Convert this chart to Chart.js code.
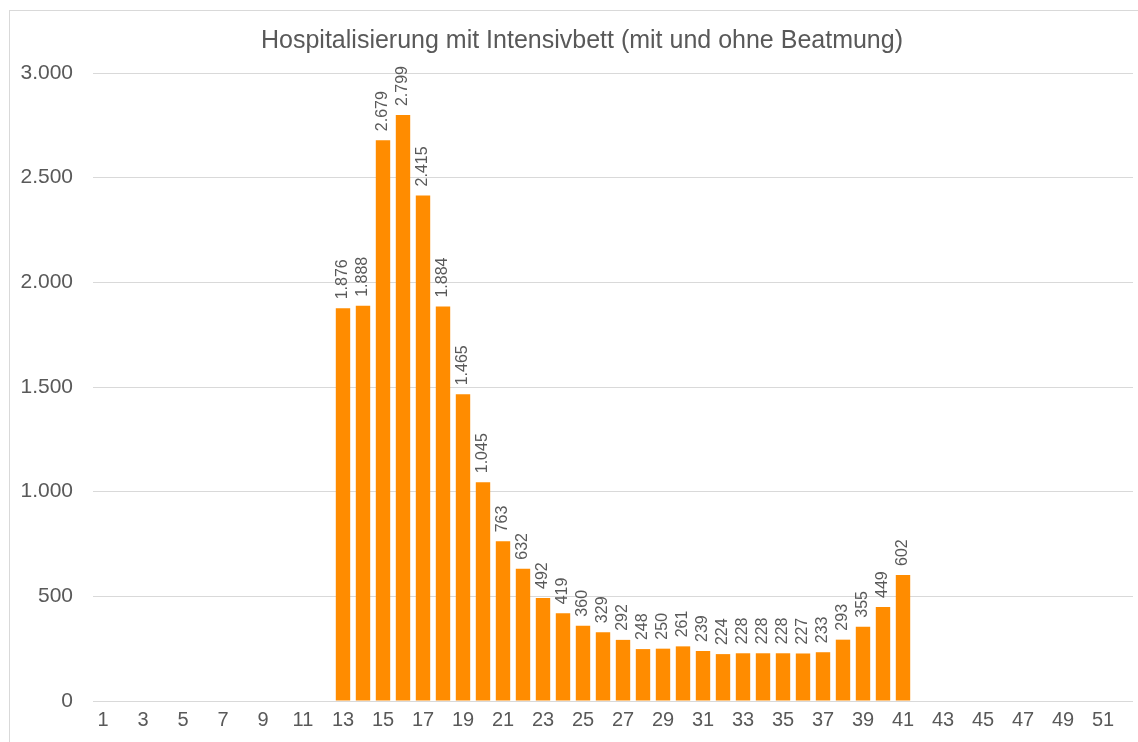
<!DOCTYPE html>
<html lang="de">
<head>
<meta charset="utf-8">
<title>Hospitalisierung mit Intensivbett</title>
<script src="https://cdn.jsdelivr.net/npm/chart.js@4/dist/chart.umd.min.js"></script>
<style>
  html, body { margin: 0; padding: 0; background: #ffffff; overflow: hidden; }
  #wrap { position: relative; width: 1138px; height: 742px; }
  #frame {
    position: absolute; left: 9px; top: 10px; width: 1160px; height: 760px;
    border: 1px solid #d9d9d9; box-sizing: border-box;
  }
  #icuChart { position: absolute; left: 0; top: 0; }
</style>
</head>
<body>
<div id="wrap">
  <div id="frame"></div>
  <canvas id="icuChart" width="1138" height="742"></canvas>
</div>
<script>
// Kalenderwochen 1..52
const weeks = ['1', '2', '3', '4', '5', '6', '7', '8', '9', '10', '11', '12', '13',
  '14', '15', '16', '17', '18', '19', '20', '21', '22', '23', '24', '25', '26',
  '27', '28', '29', '30', '31', '32', '33', '34', '35', '36', '37', '38', '39',
  '40', '41', '42', '43', '44', '45', '46', '47', '48', '49', '50', '51', '52'];

// Hospitalisierte Fälle mit Intensivbett je Woche (keine Werte vor KW 13 / nach KW 41)
const icuCases = [null, null, null, null, null, null, null, null, null, null, null, null,
  1876, 1888, 2679, 2799, 2415, 1884, 1465, 1045, 763, 632, 492, 419, 360, 329,
  292, 248, 250, 261, 239, 224, 228, 228, 228, 227, 233, 293, 355, 449, 602,
  null, null, null, null, null, null, null, null, null, null, null];

const yTicks = [0, 500, 1000, 1500, 2000, 2500, 3000];

const chartTitle = 'Hospitalisierung mit Intensivbett (mit und ohne Beatmung)';

const TEXT_GREY = '#595959';
const GRID_GREY = '#d9d9d9';
const BAR_ORANGE = '#ff8c00';
const FONT = "'Liberation Sans', Arial, sans-serif";

function formatDe(value) {
  return String(Math.round(value)).replace(/\B(?=(\d{3})+(?!\d))/g, '.');
}

// Title drawn slightly right of the canvas centre, like the original frame
const frameTitle = {
  id: 'frameTitle',
  afterDraw(chart) {
    const ctx = chart.ctx;
    ctx.save();
    ctx.font = '25px ' + FONT;
    ctx.fillStyle = TEXT_GREY;
    ctx.textAlign = 'center';
    ctx.textBaseline = 'middle';
    ctx.fillText(chartTitle, 582, 41);
    ctx.restore();
  },
};

// Vertical value labels above each bar
const barValueLabels = {
  id: 'barValueLabels',
  afterDatasetsDraw(chart) {
    const ctx = chart.ctx;
    const meta = chart.getDatasetMeta(0);
    const data = chart.data.datasets[0].data;
    ctx.save();
    ctx.font = '16px ' + FONT;
    ctx.fillStyle = '#595959';
    ctx.textAlign = 'left';
    ctx.textBaseline = 'middle';
    meta.data.forEach((bar, i) => {
      if (data[i] === null) return;
      ctx.save();
      ctx.translate(bar.x, bar.y - 9);
      ctx.rotate(-Math.PI / 2);
      ctx.fillText(formatDe(data[i]), 0, 0);
      ctx.restore();
    });
    ctx.restore();
  },
};

new Chart(document.getElementById('icuChart'), {
  type: 'bar',
  data: {
    labels: weeks,
    datasets: [{
      label: 'Intensivbett',
      data: icuCases,
      backgroundColor: BAR_ORANGE,
      borderWidth: 0,
      barPercentage: 0.72,
      categoryPercentage: 1,
    }],
  },
  options: {
    responsive: false,
    animation: false,
    layout: { padding: { left: 0, right: 5, top: 73, bottom: 0 } },
    plugins: {
      legend: { display: false },
      tooltip: { enabled: false },
      title: { display: false },
    },
    scales: {
      x: {
        grid: { display: false, drawTicks: false },
        border: { display: false },
        ticks: {
          autoSkip: false,
          maxRotation: 0,
          minRotation: 0,
          padding: 7,
          color: TEXT_GREY,
          font: { family: FONT, size: 20 },
          callback: function(value, index) {
            return index % 2 === 0 ? weeks[index] : '';
          },
        },
        afterFit: function(scale) { scale.height = 41; },
      },
      y: {
        min: 0,
        max: 3000,
        afterBuildTicks: function(scale) {
          scale.ticks = yTicks.map((v) => ({ value: v }));
        },
        grid: { color: GRID_GREY, lineWidth: 1, drawTicks: false },
        border: { display: false },
        ticks: {
          padding: 20,
          color: TEXT_GREY,
          font: { family: FONT, size: 21 },
          callback: function(value) { return formatDe(value); },
        },
        afterFit: function(scale) { scale.width = 93; },
      },
    },
  },
  plugins: [barValueLabels, frameTitle],
});
</script>
</body>
</html>
